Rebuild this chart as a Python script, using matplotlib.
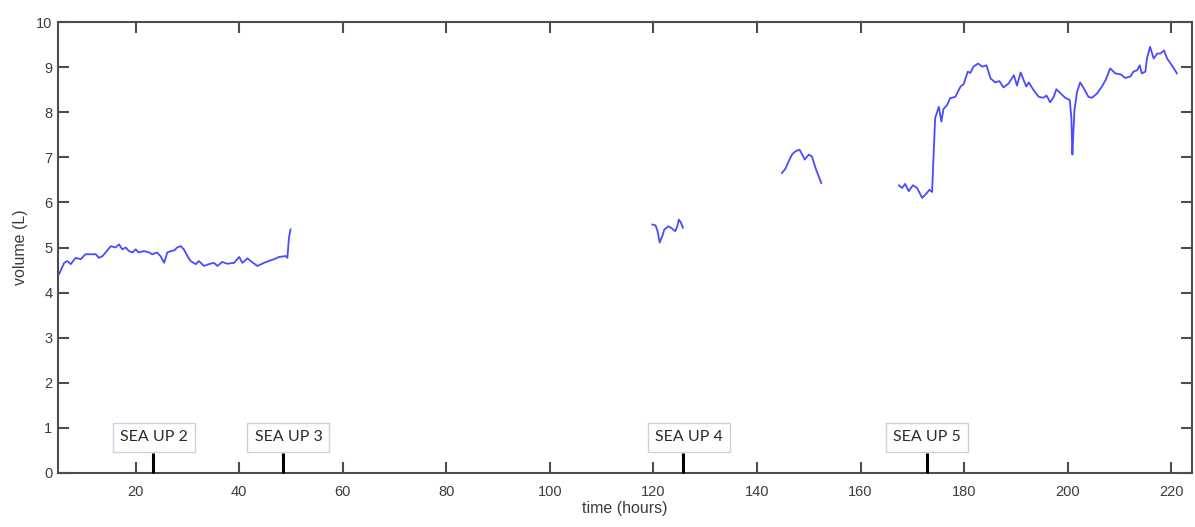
import matplotlib
matplotlib.use("Agg")
import matplotlib.pyplot as plt

# --- data: volume (L) vs time (hours), four recorded segments ---
t1 = [5.2, 6.2, 6.8, 7.45, 8.4, 9.4, 10.3, 11.3, 12.3, 12.9, 13.6, 14.2, 15.2, 16.1,
      16.8, 17.4, 18.1, 18.7, 19.4, 20.0, 20.6, 21.6, 22.6, 23.2, 24.1, 24.8, 25.5,
      26.1, 26.8, 27.5, 28.0, 28.7, 29.3, 30.0, 30.6, 31.6, 32.2, 33.2, 34.1, 35.1,
      35.8, 36.7, 37.7, 39.0, 40.0, 40.6, 41.6, 42.2, 43.5, 44.8, 45.7, 46.7, 47.7,
      49.0, 49.3, 49.6, 49.9]
v1 = [4.41, 4.66, 4.70, 4.63, 4.77, 4.74, 4.85, 4.85, 4.85, 4.77, 4.81, 4.89, 5.03, 5.00,
      5.07, 4.96, 5.00, 4.92, 4.89, 4.96, 4.89, 4.92, 4.89, 4.85, 4.89, 4.81, 4.66,
      4.89, 4.92, 4.94, 5.00, 5.03, 4.96, 4.81, 4.70, 4.63, 4.70, 4.59, 4.63, 4.66,
      4.59, 4.68, 4.64, 4.66, 4.79, 4.66, 4.76, 4.70, 4.59, 4.66, 4.70, 4.74, 4.79,
      4.81, 4.77, 5.22, 5.40]

t2 = [119.8, 120.4, 120.8, 121.2, 121.7, 122.1, 122.9, 123.6, 124.2, 124.6, 124.9,
      125.3, 125.7]
v2 = [5.51, 5.49, 5.36, 5.11, 5.25, 5.40, 5.47, 5.42, 5.36, 5.47, 5.62, 5.55, 5.44]

t3 = [144.8, 145.5, 146.1, 146.8, 147.4, 148.2, 148.7, 149.2, 150.0, 150.6, 151.3,
      151.9, 152.4]
v3 = [6.65, 6.75, 6.91, 7.07, 7.13, 7.17, 7.07, 6.95, 7.06, 7.02, 6.76, 6.58, 6.43]

t4 = [167.4, 168.0, 168.6, 169.3, 170.1, 170.9, 171.9, 172.8, 173.3, 173.8, 174.1,
      174.4, 175.1, 175.6, 176.0, 176.7, 177.3, 178.3, 179.3, 179.9, 180.7, 181.2,
      181.8, 182.7, 183.5, 184.3, 185.1, 186.0, 186.8, 187.6, 188.6, 189.6, 190.2,
      190.9, 191.5, 192.0, 192.5, 193.4, 194.4, 195.3, 195.9, 196.6, 197.3, 197.8,
      198.6, 199.5, 200.4, 200.7, 200.9, 201.1, 201.3, 201.8, 202.4, 203.1, 204.0,
      204.7, 205.7, 206.6, 207.3, 208.2, 209.2, 210.2, 211.1, 212.1, 212.7, 213.4,
      213.9, 214.3, 215.0, 215.3, 215.9, 216.6, 217.3, 217.9, 218.6, 219.2, 220.1,
      221.1]
v4 = [6.38, 6.32, 6.41, 6.25, 6.38, 6.32, 6.10, 6.21, 6.28, 6.23, 7.06,
      7.87, 8.12, 7.79, 8.07, 8.16, 8.31, 8.34, 8.57, 8.62, 8.90, 8.87,
      9.01, 9.08, 9.01, 9.04, 8.75, 8.66, 8.69, 8.55, 8.64, 8.82, 8.59,
      8.88, 8.71, 8.57, 8.66, 8.49, 8.34, 8.32, 8.37, 8.22, 8.34, 8.51,
      8.42, 8.32, 8.27, 7.87, 7.06, 7.57, 8.05, 8.45, 8.66, 8.53, 8.34,
      8.32, 8.42, 8.57, 8.71, 8.97, 8.86, 8.84, 8.76, 8.79, 8.90, 8.93,
      9.04, 8.86, 8.90, 9.19, 9.45, 9.19, 9.30, 9.30, 9.37, 9.19, 9.04,
      8.86]

# event markers
event_labels = ["SEA UP 2", "SEA UP 3", "SEA UP 4", "SEA UP 5"]
event_times = [23.4, 48.4, 125.7, 172.9]
label_times = [23.5, 49.5, 126.8, 172.8]

x_ticks = [20, 40, 60, 80, 100, 120, 140, 160, 180, 200, 220]
y_ticks = [0, 1, 2, 3, 4, 5, 6, 7, 8, 9, 10]

fig = plt.figure(figsize=(11.95, 5.27), dpi=100)
ax = fig.add_axes([58 / 1195, 1 - 473 / 527, (1192 - 58) / 1195, (473 - 22) / 527])

line_color = "#4a4aff"
for tt, vv in [(t1, v1), (t2, v2), (t3, v3), (t4, v4)]:
    ax.plot(tt, vv, color=line_color, lw=1.3)

for te in event_times:
    ax.plot([te, te], [0, 0.45], color="black", lw=2.2, solid_capstyle="butt",
            clip_on=False, zorder=4)

for lab, tl in zip(event_labels, label_times):
    ax.text(tl, 0.79, lab, ha="center", va="center", fontsize=11.5,
            family=["Lato", "DejaVu Sans"], color="#2a2a2a",
            bbox=dict(boxstyle="square,pad=0.45", fc="white", ec="#c9d2e3", lw=1.0))

ax.set_xlim(5, 224)
ax.set_ylim(0, 10)
ax.set_xticks(x_ticks)
ax.set_yticks(y_ticks)

spine_color = "#4d4d4d"
for s in ax.spines.values():
    s.set_color(spine_color)
    s.set_linewidth(1.5)

ax.tick_params(direction="in", length=8, width=1.5, color=spine_color,
               top=True, right=True, labelsize=10.5, labelcolor="#3c3c3c")
ax.tick_params(axis="x", pad=9)
ax.tick_params(axis="y", pad=4)
for lbl in ax.get_xticklabels() + ax.get_yticklabels():
    lbl.set_family(["Liberation Sans", "DejaVu Sans"])

ax.set_xlabel("time (hours)", fontsize=11.5, color="#3c3c3c",
              family=["Liberation Sans", "DejaVu Sans"], labelpad=1)
ax.set_ylabel("volume (L)", fontsize=11.5, color="#3c3c3c",
              family=["Liberation Sans", "DejaVu Sans"], labelpad=6)

fig.savefig("out.png", dpi=100)
